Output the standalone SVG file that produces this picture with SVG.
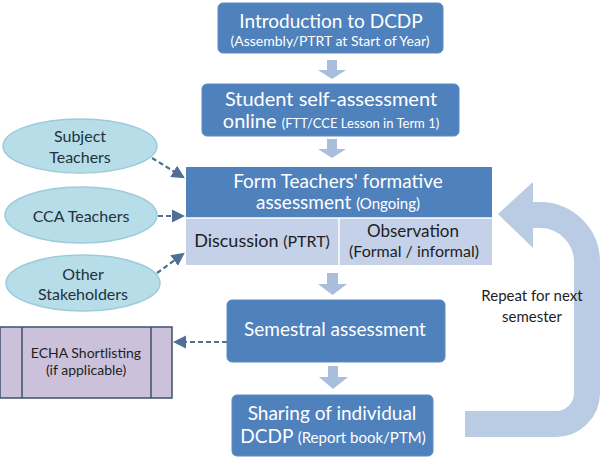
<svg xmlns="http://www.w3.org/2000/svg" width="600" height="460" viewBox="0 0 600 460">
<style>
.box{fill:#4f81bd;stroke:#5a8ac6;stroke-width:1}
.wt{fill:#ffffff;font-family:Lato,"Liberation Sans",sans-serif;text-anchor:middle}
.dt{fill:#1e1e1e;font-family:Lato,"Liberation Sans",sans-serif;text-anchor:middle}
.et{fill:#22323c;font-family:Lato,"Liberation Sans",sans-serif;text-anchor:middle;font-size:16px}
.ell{fill:#b7dde8;stroke:#9ccbdb;stroke-width:1.5}
.down{fill:#a9bedd}
.dash{fill:none;stroke:#4f6f95;stroke-width:2.2;stroke-dasharray:5 3}
</style>
<defs>
<marker id="ah" markerWidth="6" markerHeight="6" refX="5" refY="3" orient="auto" markerUnits="strokeWidth">
<path d="M0,0 L6,3 L0,6 z" fill="#4f6f95"/>
</marker>
</defs>
<rect width="600" height="460" fill="#ffffff"/>

<g id="loop-arrow">
<path d="M465,424 H556 A31,31 0 0 0 587,393 V262 A47,47 0 0 0 540,215 H530" fill="none" stroke="#b9cce4" stroke-width="26"/>
<polygon points="498,214 533,182 533,248" fill="#b9cce4"/>
<text class="dt" x="532" y="301" font-size="15">Repeat for next</text>
<text class="dt" x="532" y="322" font-size="15">semester</text>
</g>

<g id="connectors">
<path class="down" d="M327,60 H337 V70 H346 L332,79 L318,70 H327 Z"/>
<path class="down" d="M327,139 H337 V149 H346 L332,158 L318,149 H327 Z"/>
<path class="down" d="M327,273 H338 V284 H347 L332.5,295 L318,284 H327 Z"/>
<path class="down" d="M328,366 H338 V377 H348 L333,389 L319,377 H328 Z"/>
<line class="dash" x1="152" y1="158" x2="183" y2="177" marker-end="url(#ah)"/>
<line class="dash" x1="158" y1="216" x2="183" y2="216" marker-end="url(#ah)"/>
<line class="dash" x1="157" y1="273" x2="183" y2="254" marker-end="url(#ah)"/>
<line class="dash" x1="227" y1="342" x2="175" y2="342" marker-end="url(#ah)"/>
</g>

<g id="intro">
<rect class="box" x="218" y="3" width="225" height="50" rx="5"/>
<text class="wt" x="331" y="28" font-size="19">Introduction to DCDP</text>
<text class="wt" x="330" y="46" font-size="14">(Assembly/PTRT at Start of Year)</text>
</g>

<g id="self-assessment">
<rect class="box" x="202" y="84" width="257" height="52" rx="5"/>
<text class="wt" x="331" y="106" font-size="20">Student self-assessment</text>
<text class="wt" x="331" y="128"><tspan font-size="20">online </tspan><tspan font-size="13">(FTT/CCE Lesson in Term 1)</tspan></text>
</g>

<g id="formative">
<rect x="186" y="167" width="306" height="51" fill="#4f81bd"/>
<rect x="186" y="218" width="306" height="47" fill="#c4d1e8"/>
<line x1="339" y1="218" x2="339" y2="265" stroke="#ffffff" stroke-width="1.5"/>
<line x1="186" y1="218" x2="492" y2="218" stroke="#ffffff" stroke-width="1.5"/>
<text class="wt" x="338" y="188" font-size="19">Form Teachers' formative</text>
<text class="wt" x="338" y="209"><tspan font-size="19">assessment </tspan><tspan font-size="15">(Ongoing)</tspan></text>
<text class="dt" x="262" y="247"><tspan font-size="18">Discussion </tspan><tspan font-size="16">(PTRT)</tspan></text>
<text class="dt" x="413" y="237" font-size="17">Observation</text>
<text class="dt" x="414" y="257" font-size="16">(Formal / informal)</text>
</g>

<g id="subject-teachers">
<ellipse class="ell" cx="80" cy="146" rx="77" ry="27"/>
<text class="et" x="80" y="142">Subject</text>
<text class="et" x="80" y="163">Teachers</text>
</g>

<g id="cca-teachers">
<ellipse class="ell" cx="81" cy="215" rx="76" ry="28"/>
<text class="et" x="81" y="222">CCA Teachers</text>
</g>

<g id="other-stakeholders">
<ellipse class="ell" cx="83" cy="283" rx="77" ry="28"/>
<text class="et" x="83" y="280">Other</text>
<text class="et" x="83" y="300">Stakeholders</text>
</g>

<g id="semestral">
<rect class="box" x="227" y="300" width="218" height="62" rx="5"/>
<text class="wt" x="335" y="336" font-size="19">Semestral assessment</text>
</g>

<g id="echa">
<rect x="0" y="327" width="172" height="71" fill="#ccc1da" stroke="#3f4f6f" stroke-width="1.5"/>
<line x1="22" y1="327" x2="22" y2="398" stroke="#3f4f6f" stroke-width="1.5"/>
<line x1="151" y1="327" x2="151" y2="398" stroke="#3f4f6f" stroke-width="1.5"/>
<text class="dt" x="86" y="358" font-size="14">ECHA Shortlisting</text>
<text class="dt" x="86" y="375" font-size="14">(if applicable)</text>
</g>

<g id="sharing">
<rect class="box" x="232" y="395" width="201" height="61" rx="5"/>
<text class="wt" x="332" y="420" font-size="19">Sharing of individual</text>
<text class="wt" x="333" y="443"><tspan font-size="19">DCDP </tspan><tspan font-size="15">(Report book/PTM)</tspan></text>
</g>
</svg>
